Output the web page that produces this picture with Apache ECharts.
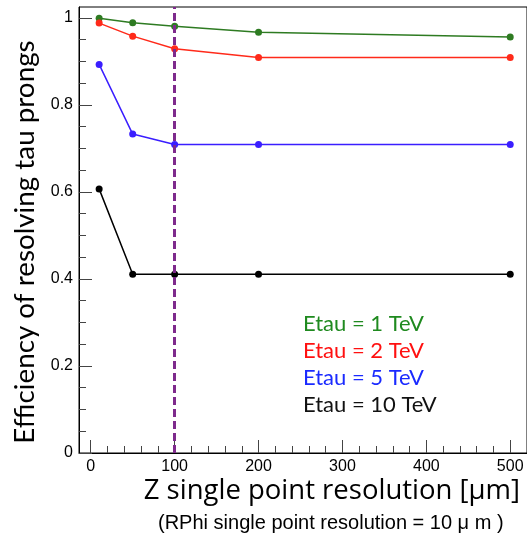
<!DOCTYPE html>
<html>
<head>
<meta charset="utf-8">
<script src="https://cdn.jsdelivr.net/npm/echarts@6/dist/echarts.min.js"></script>
<style>html,body{margin:0;padding:0;background:#fff;}#c{width:527px;height:534px;}</style>
</head>
<body>
<div id="c"></div>
<script>
const xValues = [10, 50, 100, 200, 500];
const eff1TeV = [0.999, 0.989, 0.981, 0.967, 0.956];
const eff2TeV = [0.988, 0.958, 0.929, 0.909, 0.909];
const eff5TeV = [0.893, 0.733, 0.709, 0.709, 0.709];
const eff10TeV = [0.607, 0.411, 0.411, 0.411, 0.411];
const seriesNames = ['Etau = 1 TeV', 'Etau = 2 TeV', 'Etau = 5 TeV', 'Etau = 10 TeV'];
const lineColors = ['#2E7B22', '#FF2A1A', '#3A1EFF', '#000000'];
const textColors = ['#1F8A1F', '#FF1010', '#1A2AFF', '#111111'];
const xMajorTicks = [0, 100, 200, 300, 400, 500];
const xMinorTicks = [20, 40, 60, 80, 120, 140, 160, 180, 220, 240, 260, 280, 320, 340, 360, 380, 420, 440, 460, 480];
const yMajorTicks = [0, 0.2, 0.4, 0.6, 0.8, 1];
const yMinorTicks = [0.05, 0.1, 0.15, 0.25, 0.3, 0.35, 0.45, 0.5, 0.55, 0.65, 0.7, 0.75, 0.85, 0.9, 0.95];
const cutX = 100;

const allData = [eff1TeV, eff2TeV, eff5TeV, eff10TeV];
const chart = echarts.init(document.getElementById('c'));
const tickFont = {fontFamily: 'Liberation Sans', fontSize: 16, color: '#000'};
const X_MIN = -14, X_MAX = 520, Y_MIN = 0, Y_MAX = 1.025;

const series = allData.map((d, i) => ({
  name: seriesNames[i],
  type: 'line',
  xAxisIndex: 0, yAxisIndex: 0,
  data: d.map((v, j) => [xValues[j], v]),
  symbol: 'circle',
  symbolSize: 7,
  lineStyle: {color: lineColors[i], width: 1.5},
  itemStyle: {color: lineColors[i]},
  z: 3,
  animation: false
}));
series[0].markLine = {
  silent: true, symbol: 'none', animation: false,
  label: {show: false},
  lineStyle: {color: '#7E2A8C', width: 3, type: [8, 4]},
  data: [{xAxis: cutX}]
};

chart.setOption({
  animation: false,
  grid: {left: 79, right: -1, top: 7, bottom: 81, show: true, borderColor: '#000', borderWidth: 1, backgroundColor: 'transparent'},
  legend: {
    orient: 'vertical', left: 293, top: 308,
    itemWidth: 0, itemHeight: 0, itemGap: 5,
    icon: 'rect',
    selectedMode: false,
    data: seriesNames.map((n, i) => ({name: n, textStyle: {color: textColors[i]}})),
    textStyle: {fontFamily: 'Lato', fontSize: 22, lineHeight: 22}
  },
  title: [
    {text: 'Z single point resolution [μm]', right: 2, top: 472,
     textStyle: {fontFamily: 'Open Sans', fontSize: 27.5, fontWeight: 'normal', color: '#000'}},
    {text: '(RPhi single point resolution = 10 μ m )', left: 153, top: 508,
     textStyle: {fontFamily: 'Liberation Sans', fontSize: 20, fontWeight: 'normal', color: '#000'}}
  ],
  xAxis: [
    {type: 'value', min: X_MIN, max: X_MAX, position: 'bottom',
     axisLine: {show: true, onZero: false, lineStyle: {color: '#000', width: 1}},
     axisTick: {show: true, inside: true, length: 13, customValues: xMajorTicks, lineStyle: {color: '#444'}},
     axisLabel: {show: true, customValues: xMajorTicks, margin: 6, ...tickFont},
     splitLine: {show: false}},
    {type: 'value', min: X_MIN, max: X_MAX, position: 'bottom',
     axisLine: {show: false, onZero: false},
     axisTick: {show: true, inside: true, length: 7, customValues: xMinorTicks, lineStyle: {color: '#444'}},
     axisLabel: {show: false}, splitLine: {show: false}}
  ],
  yAxis: [
    {type: 'value', min: Y_MIN, max: Y_MAX, position: 'left',
     name: 'Efficiency of resolving tau prongs', nameLocation: 'middle', nameGap: 40,
     nameTextStyle: {fontFamily: 'Lato', fontSize: 27.8, color: '#000', padding: [0, 24, 0, 0]},
     axisLine: {show: true, onZero: false, lineStyle: {color: '#000', width: 1}},
     axisTick: {show: true, inside: true, length: 13, customValues: yMajorTicks, lineStyle: {color: '#444'}},
     axisLabel: {show: true, customValues: yMajorTicks, margin: 6, ...tickFont},
     splitLine: {show: false}},
    {type: 'value', min: Y_MIN, max: Y_MAX, position: 'left',
     axisLine: {show: false, onZero: false},
     axisTick: {show: true, inside: true, length: 7, customValues: yMinorTicks, lineStyle: {color: '#444'}},
     axisLabel: {show: false}, splitLine: {show: false}}
  ],
  series: series
});
</script>
</body>
</html>
